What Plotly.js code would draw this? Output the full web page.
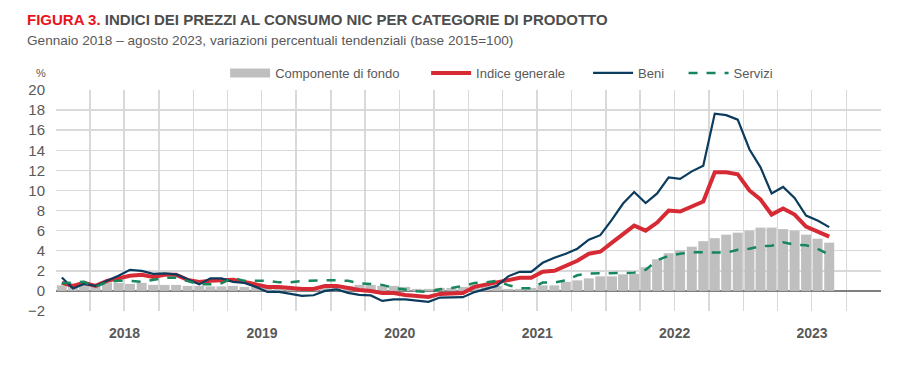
<!DOCTYPE html>
<html>
<head>
<meta charset="utf-8">
<script src="https://cdn.plot.ly/plotly-3.0.1.min.js"></script>
<style>
  html, body { margin: 0; padding: 0; background: #fff; }
  #chart { width: 919px; height: 365px; }
</style>
</head>
<body>
<div id="chart"></div>
<script>
// Months: January 2018 – August 2023
const months = [
  "2018-01","2018-02","2018-03","2018-04","2018-05","2018-06","2018-07","2018-08","2018-09","2018-10","2018-11","2018-12",
  "2019-01","2019-02","2019-03","2019-04","2019-05","2019-06","2019-07","2019-08","2019-09","2019-10","2019-11","2019-12",
  "2020-01","2020-02","2020-03","2020-04","2020-05","2020-06","2020-07","2020-08","2020-09","2020-10","2020-11","2020-12",
  "2021-01","2021-02","2021-03","2021-04","2021-05","2021-06","2021-07","2021-08","2021-09","2021-10","2021-11","2021-12",
  "2022-01","2022-02","2022-03","2022-04","2022-05","2022-06","2022-07","2022-08","2022-09","2022-10","2022-11","2022-12",
  "2023-01","2023-02","2023-03","2023-04","2023-05","2023-06","2023-07","2023-08"
];

// Componente di fondo (bars)
const componenteDiFondo = [
  0.55,0.5,0.6,0.45,0.85,0.8,0.7,0.8,0.6,0.6,0.6,0.5,
  0.5,0.45,0.45,0.5,0.4,0.4,0.4,0.35,0.4,0.4,0.4,0.5,
  0.6,0.5,0.6,0.6,0.5,0.5,0.4,0.2,0.2,0.3,0.3,0.4,
  0.7,0.6,0.5,0.2,0.2,0.3,0.55,0.55,0.9,1.05,1.25,1.45,
  1.45,1.65,1.7,2.35,3.15,3.75,4.05,4.4,4.95,5.25,5.6,5.8,
  6.0,6.3,6.3,6.15,6.0,5.6,5.2,4.8
];

// Indice generale
const indiceGenerale = [
  0.8,0.5,0.8,0.5,1.0,1.3,1.5,1.6,1.4,1.6,1.6,1.1,
  0.9,1.0,1.0,1.1,0.9,0.7,0.4,0.4,0.3,0.2,0.2,0.5,
  0.5,0.3,0.1,0.0,-0.2,-0.2,-0.4,-0.5,-0.6,-0.3,-0.2,-0.2,
  0.4,0.6,0.8,1.1,1.3,1.3,1.9,2.0,2.5,3.0,3.7,3.9,
  4.8,5.7,6.5,6.0,6.8,8.0,7.9,8.4,8.9,11.8,11.8,11.6,
  10.0,9.1,7.6,8.2,7.6,6.4,5.9,5.4
];

// Beni
const beni = [
  1.33,0.25,0.7,0.5,1.0,1.5,2.1,2.0,1.7,1.75,1.65,1.15,
  0.65,1.25,1.25,0.9,0.8,0.4,-0.1,-0.1,-0.27,-0.5,-0.43,0.0,
  0.15,-0.2,-0.4,-0.45,-1.0,-0.85,-0.85,-0.95,-1.08,-0.66,-0.66,-0.62,
  -0.12,0.17,0.5,1.45,1.9,1.9,2.8,3.3,3.7,4.2,5.1,5.55,
  7.1,8.7,9.85,8.75,9.7,11.3,11.15,11.9,12.45,17.65,17.5,17.05,
  14.1,12.3,9.7,10.35,9.25,7.5,7.0,6.35
];

// Servizi
const servizi = [
  0.77,0.83,0.9,0.4,0.9,1.0,1.0,0.9,1.1,1.3,1.3,1.0,
  0.66,0.66,0.77,1.3,1.0,1.0,1.0,0.85,0.85,1.0,1.06,1.06,
  1.06,1.0,0.77,0.65,0.6,0.3,0.12,-0.03,-0.1,0.17,0.3,0.5,
  0.8,0.85,1.0,0.57,0.27,0.27,0.83,0.83,1.06,1.56,1.73,1.73,
  1.78,1.78,1.82,2.1,3.05,3.5,3.7,3.85,3.85,3.85,3.8,4.1,
  4.2,4.45,4.5,4.85,4.6,4.55,4.2,3.6
];

const yearLabels = ["2018","2019","2020","2021","2022","2023"];
const yearCenters = ["2018-07-02","2019-07-02","2020-07-02","2021-07-02","2022-07-02","2023-07-02"];

const textGray = "#595959";
const NB = "\u00A0";

const traces = [
  {
    type: "bar", x: months, y: componenteDiFondo, name: "Componente di fondo",
    xperiod: "M1", xperiodalignment: "middle",
    marker: { color: "#bfbfbf", line: { width: 0 } }, showlegend: false
  },
  {
    type: "scatter", mode: "lines", x: [null], y: [null], name: "Componente di fondo" + NB.repeat(6),
    line: { color: "#bfbfbf", width: 9 }, legendrank: 1
  },
  {
    type: "scatter", mode: "lines", x: months, y: indiceGenerale, name: "Indice generale" + NB.repeat(5),
    xperiod: "M1", xperiodalignment: "middle",
    line: { color: "#d62b35", width: 4 }, legendrank: 2
  },
  {
    type: "scatter", mode: "lines", x: months, y: beni, name: "Beni" + NB.repeat(4),
    xperiod: "M1", xperiodalignment: "middle",
    line: { color: "#0b3c5d", width: 2.2 }, legendrank: 3
  },
  {
    type: "scatter", mode: "lines", x: months, y: servizi, name: "Servizi",
    xperiod: "M1", xperiodalignment: "middle",
    line: { color: "#16875c", width: 2.5, dash: "dash" }, legendrank: 4
  }
];

const layout = {
  width: 919, height: 365,
  margin: { l: 56, r: 38, t: 90, b: 54 },
  paper_bgcolor: "#ffffff", plot_bgcolor: "#ffffff",
  font: { family: "Liberation Sans, Arial, sans-serif", color: textGray },
  bargap: 0.1,
  showlegend: true,
  legend: {
    orientation: "h", x: 0.205, xanchor: "left", y: 1.077, yanchor: "middle",
    font: { size: 13, color: textGray, family: "Liberation Sans, Arial, sans-serif" },
    traceorder: "normal", itemwidth: 40, bgcolor: "rgba(0,0,0,0)"
  },
  xaxis: {
    type: "date",
    range: ["2018-01-01", "2024-01-01"],
    tickmode: "array", tickvals: yearCenters, ticktext: yearLabels,
    showgrid: false, ticks: "", ticklabelstandoff: 12,
    tickfont: { size: 14, color: textGray, family: "Liberation Sans Narrow, Arial Narrow, sans-serif", weight: "bold" },
    minor: { dtick: "M3", tick0: "2018-01-01", showgrid: true, gridcolor: "#d9d9d9", gridwidth: 1.5, ticks: "" },
    showline: false, zeroline: false, fixedrange: true
  },
  yaxis: {
    range: [-2, 20], dtick: 2, tick0: 0,
    showgrid: true, gridcolor: "#d9d9d9", gridwidth: 1.5,
    zeroline: true, zerolinecolor: "#7f7f7f", zerolinewidth: 1.5,
    tickfont: { size: 15, color: textGray },
    ticks: "", ticklabelstandoff: 10, showline: false, fixedrange: true
  },
  annotations: [
    {
      xref: "paper", yref: "paper", x: -0.018, y: 1.077, xanchor: "center", yanchor: "middle",
      text: "%", showarrow: false, font: { size: 11, color: textGray }
    },
    {
      xref: "paper", yref: "paper", x: -0.037, y: 1.321, xanchor: "left", yanchor: "middle",
      text: "<span style='color:#e8141b'>FIGURA 3.</span> INDICI DEI PREZZI AL CONSUMO NIC PER CATEGORIE DI PRODOTTO",
      showarrow: false,
      font: { size: 15, color: "#4d4d4d", family: "Liberation Sans Narrow, Arial Narrow, sans-serif", weight: "bold" }
    },
    {
      xref: "paper", yref: "paper", x: -0.037, y: 1.226, xanchor: "left", yanchor: "middle",
      text: "Gennaio 2018 – agosto 2023, variazioni percentuali tendenziali (base 2015=100)",
      showarrow: false,
      font: { size: 13.6, color: textGray, family: "Liberation Sans, Arial, sans-serif" }
    }
  ]
};

Plotly.newPlot("chart", traces, layout, { staticPlot: true, displayModeBar: false });
</script>
</body>
</html>
